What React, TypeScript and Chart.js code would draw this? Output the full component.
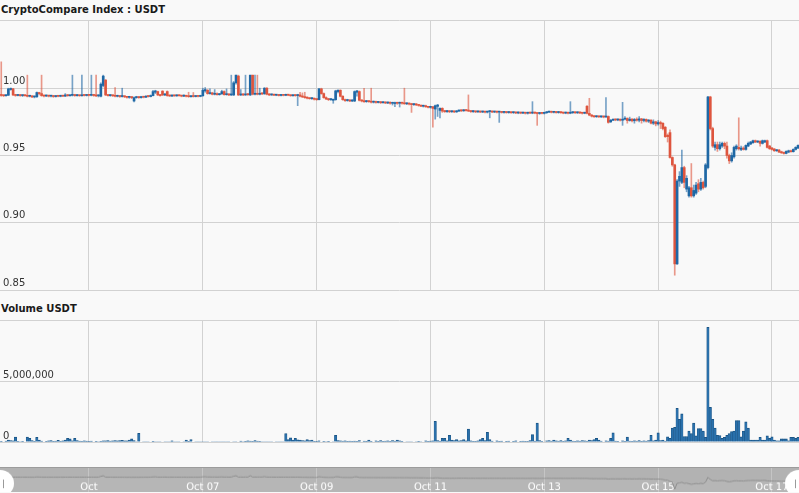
import React, { useEffect, useRef } from 'react';
import { Chart, registerables } from 'chart.js';

Chart.register(...registerables);

// Hours are counted from Oct 05 00:00; first hourly candle is Oct 03 11:00.
const FIRST_HOUR = -37;
const X_MIN = -37.53;
const X_MAX = 299.4;
const tickDays = [5, 7, 9, 11, 13, 15, 17];
const tickLabels = ['Oct', 'Oct 07', 'Oct 09', 'Oct 11', 'Oct 13', 'Oct 15', 'Oct 17'];
const priceTicks = [0.85, 0.9, 0.95, 1.0];
const PRICE_MIN = 0.85;
const PRICE_MAX = 1.0507;
const volumeTicks = [0, 5000000];
const VOLUME_MAX = 10000000;
const PRICE_UNIT = 10000; // prices below are in 1/10000 USDT
const VOLUME_UNIT = 1000; // volumes below are in thousands

const opens = [
  9952,9946,9944,9948,9990,9995,9950,9946,9949,9945,
  9948,9944,9940,9943,9935,9936,9965,9960,9945,9942,
  9945,9941,9943,9938,9942,9940,9944,9941,9950,9944,
  9947,9950,9945,9948,9944,9948,9946,9949,9947,9950,
  9946,9943,9940,10020,10060,9950,9945,9948,9944,9940,
  9943,9938,9942,9936,9932,9935,9905,9930,9934,9930,
  9936,9933,9940,9938,9945,9970,9975,9950,9978,9950,
  9975,9945,9942,9946,9943,9947,9944,9941,9945,9940,
  9937,9941,9938,9942,9939,9944,9980,9985,9960,9965,
  9955,9960,9952,9958,9975,9952,9956,9950,9950,10040,
  10090,9950,9955,9950,9956,9950,10097,9955,9960,9955,
  9962,9958,10000,9955,9950,9953,9948,9951,9946,9950,
  9947,9952,9948,9944,9948,9945,9950,9940,9935,9930,
  9926,9922,9925,9918,9915,9995,9960,9930,9920,9915,
  9910,9915,9975,9985,9940,9915,9908,9912,9905,9905,
  9970,9975,9910,9905,9900,9904,9900,9896,9900,9894,
  9898,9892,9896,9890,9894,9888,9886,9892,9888,9893,
  9888,9884,9888,9882,9878,9882,9876,9872,9866,9870,
  9862,9858,9862,9845,9865,9835,9850,9830,9826,9830,
  9825,9829,9824,9830,9836,9832,9837,9834,9830,9826,
  9829,9824,9828,9823,9827,9822,9826,9828,9823,9826,
  9822,9825,9820,9824,9819,9822,9818,9821,9816,9820,
  9815,9819,9814,9818,9815,9820,9815,9812,9816,9813,
  9818,9822,9825,9821,9824,9819,9823,9818,9815,9819,
  9814,9818,9822,9817,9821,9816,9814,9866,9813,9800,
  9792,9788,9792,9787,9790,9786,9790,9750,9762,9768,
  9764,9768,9762,9770,9775,9760,9770,9758,9768,9762,
  9772,9760,9768,9755,9762,9740,9750,9735,9745,9739,
  9710,9650,9670,9485,9430,8694,9310,9300,9410,9250,
  9200,9260,9200,9220,9290,9250,9300,9270,9410,9935,
  9700,9560,9580,9550,9570,9590,9570,9500,9460,9490,
  9550,9560,9545,9555,9545,9570,9585,9595,9610,9600,
  9605,9590,9600,9610,9570,9555,9548,9535,9540,9528,
  9522,9515,9525,9535,9528,9545,9555,
];

const highs = [
  10196,9950,9952,10000,10002,10000,9955,9952,9953,9950,
  9952,10097,9948,9946,9942,9972,9970,10097,9948,9950,
  9948,9947,9946,9945,9946,9948,9947,9960,9954,9950,
  10097,9955,9952,9950,10097,9952,9953,9953,10097,9955,
  10097,9952,10040,10097,10065,9955,9952,9950,10005,9948,
  9945,10000,9945,9940,9940,9938,9935,9940,9938,9940,
  9940,9945,9945,9950,9985,9985,9978,9955,9982,9960,
  9980,9950,9950,9950,9952,9950,9948,9950,9948,9970,
  9945,9968,9946,9946,9948,10000,10005,9990,9995,9970,
  9990,9965,9962,9985,9980,9995,9960,10097,10050,10097,
  10097,9990,9960,10097,9960,10097,10097,10097,10097,10000,
  9966,10005,10005,9960,9958,9957,9955,9954,9954,9953,
  9956,9955,9952,9952,9952,9955,9970,9965,9970,9935,
  9930,9930,9928,9922,10000,10000,9965,9935,9925,9922,
  9920,9985,9988,9988,9945,9920,9918,9916,9915,9980,
  9985,9980,9915,10000,9910,9908,10000,9905,9904,9902,
  9902,9900,9900,9898,9898,9896,9896,9896,9897,9897,
  10000,9892,9892,9888,9886,9886,9880,9876,9874,9874,
  9866,9866,9866,9875,9880,9855,9855,9835,9835,9834,
  9833,9832,9835,9840,9840,9842,9840,9950,9835,9833,
  9832,9832,9831,9831,9830,9830,9832,9831,9830,9830,
  9829,9828,9828,9827,9826,9825,9825,9824,9824,9823,
  9823,9822,9822,9822,9900,9823,9818,9820,9820,9822,
  9826,9830,9830,9828,9828,9827,9826,9822,9823,9822,
  9900,9826,9826,9825,9825,9820,9822,9870,9925,9805,
  9796,9796,9795,9794,9794,9930,9794,9768,9772,9772,
  9772,9772,9895,9790,9780,9785,9775,9775,9780,9790,
  9776,9775,9772,9768,9766,9765,9755,9760,9755,9745,
  9715,9660,9690,9490,9435,9320,9380,9540,9420,9350,
  9270,9440,9280,9300,9320,9330,9310,9440,9940,9940,
  9710,9600,9600,9600,9600,9600,9600,9510,9520,9570,
  9580,9780,9570,9565,9580,9600,9605,9615,9615,9610,
  9610,9615,9615,9615,9575,9560,9552,9545,9545,9532,
  9526,9535,9540,9540,9550,9565,9580,
];

const lows = [
  9940,9938,9940,9945,9985,9945,9940,9942,9940,9938,
  9940,9935,9935,9930,9928,9932,9950,9940,9936,9938,
  9935,9936,9932,9934,9936,9936,9937,9938,9940,9940,
  9942,9940,9940,9940,9940,9942,9942,9942,9943,9940,
  9938,9935,9935,10010,9945,9940,9940,9938,9935,9935,
  9932,9934,9930,9926,9925,9922,9898,9925,9925,9926,
  9928,9930,9934,9935,9942,9960,9945,9940,9945,9945,
  9940,9938,9938,9940,9940,9940,9936,9937,9935,9932,
  9933,9934,9935,9935,9936,9940,9970,9955,9955,9950,
  9950,9948,9948,9955,9948,9948,9945,9945,9945,10030,
  9945,9945,9945,9946,9946,9945,9950,9950,9950,9950,
  9952,9955,9950,9945,9946,9944,9944,9942,9942,9943,
  9944,9944,9940,9940,9940,9870,9935,9930,9925,9920,
  9918,9916,9912,9910,9912,9955,9925,9915,9908,9910,
  9888,9910,9965,9935,9910,9902,9903,9900,9900,9900,
  9940,9905,9898,9895,9895,9895,9890,9890,9888,9890,
  9886,9888,9885,9885,9882,9875,9862,9880,9860,9882,
  9880,9878,9876,9820,9872,9870,9866,9862,9860,9858,
  9854,9852,9710,9770,9790,9780,9820,9820,9820,9818,
  9820,9818,9820,9826,9826,9828,9830,9826,9820,9820,
  9818,9820,9818,9818,9816,9816,9780,9818,9818,9816,
  9746,9815,9815,9814,9814,9812,9812,9810,9810,9810,
  9810,9808,9808,9810,9810,9810,9724,9806,9808,9808,
  9812,9818,9816,9816,9814,9814,9812,9810,9810,9808,
  9810,9812,9812,9812,9810,9808,9810,9808,9795,9786,
  9782,9783,9782,9782,9780,9782,9740,9745,9758,9758,
  9758,9756,9724,9765,9740,9755,9750,9740,9755,9750,
  9740,9750,9748,9745,9735,9730,9720,9725,9700,9690,
  9634,9600,9480,9420,8610,8690,9270,9290,9260,9230,
  9190,9190,9190,9210,9230,9240,9250,9260,9400,9690,
  9560,9540,9530,9540,9560,9550,9480,9440,9450,9480,
  9540,9540,9535,9540,9540,9565,9580,9590,9595,9595,
  9570,9585,9595,9555,9545,9540,9530,9530,9520,9515,
  9510,9512,9520,9525,9525,9540,9550,
];

const closes = [
  9946,9944,9948,9995,9998,9950,9946,9949,9945,9948,
  9944,9940,9943,9935,9938,9968,9960,9945,9942,9945,
  9941,9943,9938,9942,9940,9944,9941,9950,9944,9947,
  9950,9945,9948,9944,9948,9946,9949,9947,9950,9946,
  9943,9948,10030,10090,9950,9945,9948,9944,9940,9943,
  9938,9942,9936,9932,9935,9930,9930,9934,9930,9936,
  9933,9940,9938,9945,9975,9980,9950,9945,9950,9955,
  9945,9942,9946,9943,9947,9944,9941,9945,9940,9937,
  9941,9938,9942,9939,9944,9985,9990,9960,9965,9955,
  9960,9952,9958,9975,9952,9956,9950,9955,10040,10097,
  9950,9955,9950,9956,9952,10097,9955,9960,9955,9962,
  9958,10000,9955,9950,9953,9948,9951,9946,9950,9947,
  9952,9948,9944,9948,9945,9950,9940,9935,9930,9926,
  9922,9925,9918,9915,9995,9960,9930,9920,9915,9918,
  9915,9980,9985,9940,9915,9908,9912,9905,9910,9975,
  9980,9910,9905,9900,9904,9900,9896,9900,9894,9898,
  9892,9896,9890,9894,9888,9892,9892,9888,9893,9888,
  9884,9888,9882,9878,9882,9876,9872,9866,9870,9862,
  9858,9862,9850,9870,9875,9850,9830,9826,9830,9825,
  9829,9824,9830,9836,9832,9837,9834,9830,9826,9829,
  9824,9828,9823,9827,9822,9826,9828,9823,9826,9822,
  9825,9820,9824,9819,9822,9818,9821,9816,9820,9815,
  9819,9814,9818,9815,9820,9815,9812,9816,9813,9818,
  9822,9825,9821,9824,9819,9823,9818,9815,9819,9814,
  9818,9822,9817,9821,9816,9814,9818,9813,9800,9792,
  9788,9792,9787,9790,9786,9790,9746,9762,9768,9764,
  9768,9762,9770,9775,9760,9770,9758,9768,9762,9772,
  9760,9768,9755,9762,9740,9750,9735,9745,9735,9700,
  9640,9640,9485,9430,8694,9310,9345,9410,9300,9330,
  9260,9200,9240,9280,9250,9300,9260,9430,9935,9700,
  9570,9580,9550,9580,9590,9570,9500,9460,9500,9560,
  9570,9550,9555,9545,9575,9590,9600,9610,9600,9605,
  9590,9610,9610,9560,9550,9545,9535,9540,9525,9520,
  9515,9530,9535,9528,9545,9560,9575,
];

const volumes = [
  60,40,80,150,120,90,400,60,30,50,
  40,400,300,120,60,380,150,80,40,60,
  100,120,50,80,130,60,90,150,300,250,
  100,300,120,80,60,90,70,60,80,40,
  60,30,50,100,90,110,80,100,120,90,
  110,130,100,90,160,250,120,30,720,40,
  20,30,20,40,50,30,20,30,40,20,
  30,20,100,30,20,30,40,20,150,60,
  200,40,20,30,20,20,30,20,40,30,
  20,30,20,20,30,20,30,40,30,20,
  40,80,30,60,100,80,60,120,80,60,
  30,20,20,30,20,40,30,20,30,20,
  700,200,350,150,300,180,150,120,100,200,
  120,150,60,50,90,40,60,30,50,40,
  30,550,120,100,80,90,60,80,50,70,
  60,120,40,80,60,150,60,40,90,50,
  120,60,80,100,60,120,80,150,90,60,
  40,30,20,30,40,20,60,30,40,90,
  50,80,100,1700,120,80,300,300,100,550,
  150,120,200,100,120,200,100,1050,100,60,
  60,100,200,300,120,800,200,80,40,100,
  60,80,40,60,80,40,60,100,40,60,
  80,60,60,120,600,80,1550,120,60,40,
  100,120,80,150,100,80,120,60,100,300,
  150,80,60,100,80,120,100,80,150,120,
  200,300,150,80,40,100,80,300,750,80,
  60,40,100,60,400,80,60,100,80,120,
  60,100,80,120,550,100,150,750,120,150,
  80,420,300,1150,1200,2750,1850,2300,450,450,
  900,700,1550,500,1100,1100,900,380,9400,2850,
  1850,1150,550,520,300,380,550,700,850,900,
  1750,1750,430,900,1650,1150,150,150,150,150,
  380,150,150,500,300,420,150,100,100,250,
  250,250,100,380,380,300,380,
];

const UP = '#1f68a5';
const DOWN = '#de553e';
const UP_WICK = 'rgba(31,104,165,0.6)';
const DOWN_WICK = 'rgba(222,85,62,0.6)';
const GRID = '#d2d2d2';
const FONT = 'DejaVu Sans';

const hourOf = (i: number) => FIRST_HOUR + i;
const tickHours = tickDays.map((d) => (d - 5) * 24);

const zeroPadding = (s: any) => {
  s.paddingTop = 0;
  s.paddingBottom = 0;
  s.paddingLeft = 0;
  s.paddingRight = 0;
};

function xScale(showLabels: boolean, gridColor: string) {
  return {
    type: 'linear' as const,
    min: X_MIN,
    max: X_MAX,
    offset: false,
    grid: { color: gridColor, drawTicks: false, offset: false },
    border: { display: false },
    afterBuildTicks: (s: any) => {
      s.ticks = tickHours.map((v) => ({ value: v }));
    },
    afterFit: (s: any) => {
      s.height = 0;
      zeroPadding(s);
    },
    ticks: showLabels
      ? {
          display: true,
          autoSkip: false,
          maxRotation: 0,
          minRotation: 0,
          mirror: true,
          padding: -1,
          color: '#ffffff',
          font: { family: FONT, size: 10 },
          callback: (v: any) => {
            const k = tickHours.indexOf(Number(v));
            return k >= 0 ? tickLabels[k] : '';
          },
        }
      : { display: false },
  };
}

export default function App() {
  const priceRef = useRef<HTMLCanvasElement>(null);
  const volRef = useRef<HTMLCanvasElement>(null);
  const navRef = useRef<HTMLCanvasElement>(null);

  useEffect(() => {
    const isUp = opens.map((o, i) => closes[i] >= o);
    const wickData = opens.map((_, i) => ({ x: hourOf(i), y: [lows[i] / PRICE_UNIT, highs[i] / PRICE_UNIT] }));
    const bodyData = opens.map((o, i) => ({ x: hourOf(i), y: [o / PRICE_UNIT, closes[i] / PRICE_UNIT] }));

    const price = new Chart(priceRef.current!, {
      type: 'bar',
      data: {
        datasets: [
          {
            data: wickData as any,
            backgroundColor: isUp.map((u) => (u ? UP_WICK : DOWN_WICK)),
            barThickness: 1,
            grouped: false,
            order: 2,
          } as any,
          {
            data: bodyData as any,
            backgroundColor: isUp.map((u) => (u ? UP : DOWN)),
            barThickness: 2,
            minBarLength: 1,
            grouped: false,
            order: 1,
          } as any,
        ],
      },
      options: {
        animation: false,
        responsive: false,
        maintainAspectRatio: false,
        layout: { padding: { bottom: 1 }, autoPadding: false } as any,
        plugins: { legend: { display: false }, tooltip: { enabled: false } },
        scales: {
          x: xScale(false, GRID) as any,
          y: {
            min: PRICE_MIN,
            max: PRICE_MAX,
            grid: { color: GRID, drawTicks: false },
            border: { display: false },
            afterBuildTicks: (s: any) => {
              s.ticks = [...priceTicks, PRICE_MAX].map((v) => ({ value: v }));
            },
            afterFit: (s: any) => {
              s.width = 0;
              zeroPadding(s);
            },
            ticks: {
              mirror: true,
              padding: 3,
              labelOffset: -7,
              color: '#333',
              font: { family: FONT, size: 10 },
              callback: (v: any) => (priceTicks.includes(Number(v)) ? Number(v).toFixed(2) : ''),
            },
          },
        },
      },
    });

    const vol = new Chart(volRef.current!, {
      type: 'bar',
      data: {
        datasets: [
          {
            data: volumes.map((v, i) => ({ x: hourOf(i), y: v * VOLUME_UNIT })) as any,
            backgroundColor: '#2a70ab',
            borderColor: '#1b5585',
            borderWidth: { top: 1, left: 0.5, right: 0.5, bottom: 0 },
            barPercentage: 1,
            categoryPercentage: 1,
          } as any,
        ],
      },
      options: {
        animation: false,
        responsive: false,
        maintainAspectRatio: false,
        layout: { padding: { bottom: 1 }, autoPadding: false } as any,
        plugins: { legend: { display: false }, tooltip: { enabled: false } },
        scales: {
          x: xScale(false, GRID) as any,
          y: {
            min: 0,
            max: VOLUME_MAX,
            grid: { color: GRID, drawTicks: false },
            border: { display: false },
            afterBuildTicks: (s: any) => {
              s.ticks = [...volumeTicks, VOLUME_MAX].map((v) => ({ value: v }));
            },
            afterFit: (s: any) => {
              s.width = 0;
              zeroPadding(s);
            },
            ticks: {
              mirror: true,
              padding: 3,
              labelOffset: -6,
              color: '#333',
              font: { family: FONT, size: 10 },
              callback: (v: any) =>
                volumeTicks.includes(Number(v)) ? Number(v).toLocaleString('en-US') : '',
            },
          },
        },
      },
    });

    const handles = {
      id: 'navHandles',
      afterDraw(chart: any) {
        const { ctx, chartArea: a } = chart;
        const cy = a.top + 16;
        [a.left, a.right].forEach((cx: number, k: number) => {
          ctx.save();
          ctx.beginPath();
          ctx.arc(cx, cy, 14, 0, Math.PI * 2);
          ctx.fillStyle = '#ffffff';
          ctx.fill();
          ctx.strokeStyle = '#9a9a9a';
          ctx.lineWidth = 1;
          ctx.beginPath();
          const lx = k === 0 ? cx + 3.5 : cx - 3.5;
          ctx.moveTo(lx, cy - 4);
          ctx.lineTo(lx, cy + 5);
          ctx.stroke();
          ctx.restore();
        });
      },
    };

    const nav = new Chart(navRef.current!, {
      type: 'line',
      data: {
        datasets: [
          {
            data: closes.map((c, i) => ({ x: hourOf(i), y: c / PRICE_UNIT })) as any,
            borderColor: '#8e8e8e',
            borderWidth: 1,
            pointRadius: 0,
            fill: 'start',
            backgroundColor: 'rgba(255,255,255,0.06)',
          } as any,
        ],
      },
      options: {
        animation: false,
        responsive: false,
        maintainAspectRatio: false,
        layout: { padding: 0, autoPadding: false } as any,
        plugins: { legend: { display: false }, tooltip: { enabled: false } },
        scales: {
          x: xScale(true, 'rgba(255,255,255,0.25)') as any,
          y: { display: false, min: 0.84, max: 1.09, afterFit: zeroPadding },
        },
      },
      plugins: [handles],
    });

    return () => {
      price.destroy();
      vol.destroy();
      nav.destroy();
    };
  }, []);

  const titleStyle: React.CSSProperties = {
    position: 'absolute',
    left: 1,
    fontFamily: FONT,
    fontSize: 10,
    fontWeight: 'bold',
    color: '#1a1a1a',
    lineHeight: '14px',
    whiteSpace: 'nowrap',
  };

  return (
    <div
      style={{
        position: 'fixed',
        left: 0,
        top: 0,
        width: 799,
        height: 493,
        background: '#f9f9f9',
        overflow: 'hidden',
      }}
    >
      <div style={{ ...titleStyle, top: 3 }}>CryptoCompare Index : USDT</div>
      <canvas ref={priceRef} width={799} height={271} style={{ position: 'absolute', left: 0, top: 20 }} />
      <div style={{ ...titleStyle, top: 302 }}>Volume USDT</div>
      <canvas ref={volRef} width={799} height={123} style={{ position: 'absolute', left: 0, top: 320 }} />
      <canvas
        ref={navRef}
        width={799}
        height={25}
        style={{ position: 'absolute', left: 0, top: 467, background: '#b2b2b2', borderTop: '1px solid #9c9c9c' }}
      />
    </div>
  );
}
